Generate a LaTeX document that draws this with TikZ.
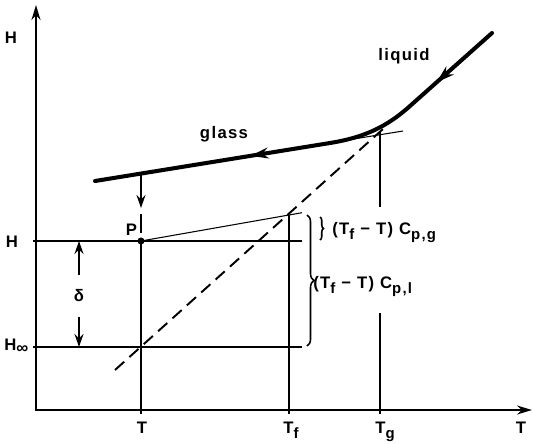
\documentclass[tikz,border=0pt]{standalone}
\usepackage{fontspec}
\setmainfont{Liberation Sans}[LetterSpace=8.0]
\usepackage{tikz}
\usetikzlibrary{arrows.meta,decorations.markings,decorations.pathreplacing}
\newcommand{\lowsub}[1]{\raisebox{-0.6ex}{\fontsize{8.5}{9}\selectfont #1}}
\tikzset{
  axisline/.style={line width=1.1pt,{Stealth[length=3mm,width=1.8mm]}-{Stealth[length=3mm,width=1.8mm]}},
  thinline/.style={line width=0.6pt},
  dashline/.style={line width=1.1pt,dash pattern=on 7pt off 4pt},
  coolpath/.style={line width=2.3pt,line cap=round,postaction={decorate},
    decoration={markings,
      mark=at position 0.17 with {\arrow{Stealth[length=3.6mm,width=2.2mm]}},
      mark=at position 0.64 with {\arrow{Stealth[length=3.6mm,width=2.2mm]}}}},
  droparr/.style={line width=1pt,-{Stealth[length=2.6mm,width=1.8mm]}},
  deltaarr/.style={line width=0.9pt,-{Stealth[length=2.6mm,width=1.8mm]}},
  bigbrace/.style={decorate,decoration={brace,amplitude=4pt},line width=0.9pt},
  smallbrace/.style={decorate,decoration={brace,amplitude=2pt},line width=0.9pt},
  lbl/.style={inner sep=0pt},
  dot/.style={circle,fill,inner sep=0pt,minimum size=4pt}
}

\begin{document}
\begin{tikzpicture}[x=0.02cm,y=-0.02cm,font=\fontsize{9.5}{11}\selectfont\bfseries]
  \useasboundingbox (0,0) rectangle (533,443);

  % key points
  \coordinate (O) at (36,410);
  \coordinate (Htop) at (36,5);
  \coordinate (Tend) at (532,410);
  \coordinate (P) at (141,241);
  \coordinate (Q) at (141,347);
  \coordinate (F) at (289,215);
  \coordinate (G) at (380,132);

  \draw[axisline] (Htop) -- (O) -- (Tend);

  % levels H and H_infinity
  \draw[thinline] (33,241) -- (302,241);
  \draw[thinline] (33,347) -- (302,347);

  % temperatures T, T_f, T_g
  \draw[thinline] (141,414) -- (P);
  \draw[thinline] (289,414) -- (F);
  \draw[thinline] (380,414) -- (380,313);
  \draw[thinline] (380,207) -- (G);

  \draw[thinline] (P) -- (302,212.7);
  \draw[thinline] (340,141.2) -- (403,131);
  \draw[dashline] (115,370) -- (383,129);

  \draw[coolpath] (492,33) -- (410,106)
    .. controls (388,125.7) and (366,137.2) .. (330,143) -- (95,181);

  \draw[droparr] (141,174) -- (141,208);
  \draw[line width=1pt] (141,214) -- (141,233);
  \node[dot] (Pdot) at (P) {};

  \node[lbl] (delta) at (79,296) {δ};
  \coordinate (dH) at (79,241);
  \coordinate (dHinf) at (79,347);
  \draw[deltaarr,shorten <=8pt] (delta) -- (dH);
  \draw[deltaarr,shorten <=8pt] (delta) -- (dHinf);

  \draw[bigbrace] (307,215) -- (307,346);
  \draw[smallbrace] (320,217) -- (320,240);

  % labels
  \node[lbl,anchor=base] (Hax) at (11,43) {H};
  \node[lbl,anchor=base] (Tax) at (521,433) {T};
  \node[lbl,anchor=base] (Hlev) at (12,247) {H};
  \node[lbl,anchor=base west] (Hinf) at (4,350) {H\raisebox{-0.4ex}{∞}};
  \node[lbl,anchor=base] (Plab) at (131.5,235) {P};
  \node[lbl,anchor=base] (Tlab) at (142,433) {T};
  \node[lbl,anchor=base west] (Tflab) at (283,433) {T\lowsub{f}};
  \node[lbl,anchor=base west] (Tglab) at (375,433) {T\lowsub{g}};
  \node[lbl,anchor=base] (glass) at (224,138) {glass};
  \node[lbl,anchor=base] (liquid) at (404,60) {liquid};
  \node[lbl,anchor=base west] (cpg) at (332,234) {(T\lowsub{f} − T) C\lowsub{p,g}};
  \node[lbl,anchor=base west] (cpl) at (313,288) {(T\lowsub{f} − T) C\lowsub{p,l}};
\end{tikzpicture}
\end{document}
